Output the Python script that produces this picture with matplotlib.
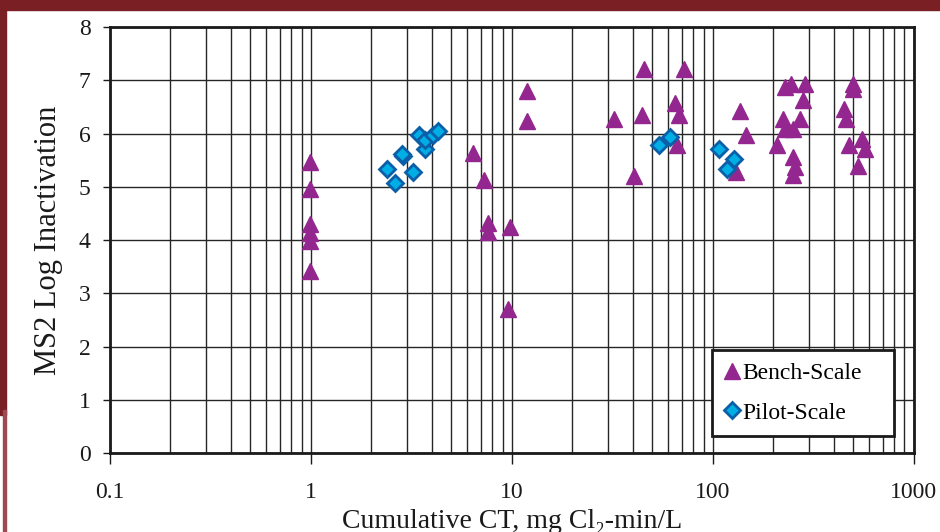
import matplotlib
matplotlib.use("Agg")
import matplotlib.pyplot as plt
import matplotlib.patches as mpatches
import numpy as np

# bench-scale points (cumulative CT, log inactivation)
bench_ct = [0.99, 0.99, 0.99, 0.99, 0.99, 0.99,
            6.4, 7.3, 7.6, 7.6, 9.8, 9.6, 11.9, 11.9,
            32.4, 45.7, 44.4, 40.7, 71.8, 65.2, 68.1, 66.4,
            136, 146, 130,
            208, 228, 245, 288, 282, 223, 271, 230, 251, 251, 257, 251,
            498, 498, 450, 462, 475, 556, 572, 528]
bench_log = [5.47, 4.96, 4.30, 4.13, 3.98, 3.42,
             5.64, 5.13, 4.32, 4.15, 4.25, 2.70, 6.80, 6.24,
             6.28, 7.22, 6.35, 5.20, 7.22, 6.58, 6.35, 5.79,
             6.43, 5.98, 5.28,
             5.79, 6.88, 6.94, 6.94, 6.64, 6.28, 6.28, 6.09, 6.09, 5.56, 5.38, 5.23,
             6.94, 6.84, 6.47, 6.28, 5.79, 5.90, 5.71, 5.40]

# pilot-scale points
pilot_ct = [2.40, 2.63, 2.88, 2.83, 3.23, 3.47, 3.71, 3.71, 4.03, 4.31,
            53.9, 61.0, 108, 127, 118]
pilot_log = [5.34, 5.07, 5.57, 5.61, 5.28, 5.98, 5.71, 5.88, 5.98, 6.05,
             5.79, 5.94, 5.71, 5.53, 5.34]

y_ticks = list(range(0, 9))
x_ticks = [0.1, 1, 10, 100, 1000]
x_ticklabels = ["0.1", "1", "10", "100", "1000"]

plt.rcParams['font.family'] = ['Liberation Serif', 'DejaVu Serif']

fig = plt.figure(figsize=(9.4, 5.32), dpi=100)
ax = fig.add_axes([0.117, 0.1485, 0.855, 0.8005])

# dark red frame bits
red = '#7a1f24'
fig.patches.append(mpatches.Rectangle((0, 0.981), 1, 0.019, transform=fig.transFigure,
                                      color=red, zorder=0))
fig.patches.append(mpatches.Rectangle((0, 0.22), 0.0065, 0.78, transform=fig.transFigure,
                                      color=red, zorder=0))
fig.patches.append(mpatches.Rectangle((0.0035, 0), 0.003, 0.23, transform=fig.transFigure,
                                      color='#9a4a50', zorder=0))

ax.plot(bench_ct, bench_log, linestyle='none', marker='^', markersize=12,
        color='#93278f', markeredgecolor='#93278f', label='Bench-Scale', zorder=3)
ax.plot(pilot_ct, pilot_log, linestyle='none', marker='D', markersize=8,
        markerfacecolor='#00aee6', markeredgecolor='#0a5fa8', markeredgewidth=2,
        label='Pilot-Scale', zorder=4)

ax.set_xscale('log')
ax.set_xlim(0.1, 1000)
ax.set_ylim(0, 8)
ax.set_yticks(y_ticks)
ax.set_xticks(x_ticks)
ax.set_xticklabels(x_ticklabels)
ax.xaxis.set_minor_locator(matplotlib.ticker.LogLocator(base=10, subs=np.arange(2, 10)))
ax.xaxis.set_minor_formatter(matplotlib.ticker.NullFormatter())

ax.grid(True, which='both', axis='x', color='#262626', linewidth=1)
ax.grid(True, which='major', axis='y', color='#262626', linewidth=1)
ax.set_axisbelow(True)

for s in ax.spines.values():
    s.set_linewidth(2)
    s.set_color('#1a1a1a')

ax.tick_params(axis='both', which='major', direction='out', width=1,
               labelsize=17, colors='#1a1a1a')
ax.tick_params(axis='x', which='major', length=8, pad=13)
ax.tick_params(axis='y', which='major', length=5, pad=9)
ax.tick_params(axis='x', which='minor', length=0)

ax.set_ylabel('MS2 Log Inactivation', fontsize=22, color='#1a1a1a', labelpad=11)
ax.set_xlabel('Cumulative CT, mg Cl\u2082-min/L', fontsize=20, color='#1a1a1a',
              labelpad=4)

# legend box (wider than its contents, as in the original)
ax.add_patch(mpatches.Rectangle((0.749, 0.040), 0.2265, 0.202, transform=ax.transAxes,
                                facecolor='white', edgecolor='#1a1a1a', linewidth=2,
                                zorder=5))
leg = ax.legend(loc='upper left', bbox_to_anchor=(0.749, 0.242), fontsize=17,
                frameon=False, handlelength=0.6, handletextpad=0.15,
                labelspacing=0.75, borderpad=0.55, borderaxespad=0.0)
leg.set_zorder(6)

fig.savefig('out.png', dpi=100)
